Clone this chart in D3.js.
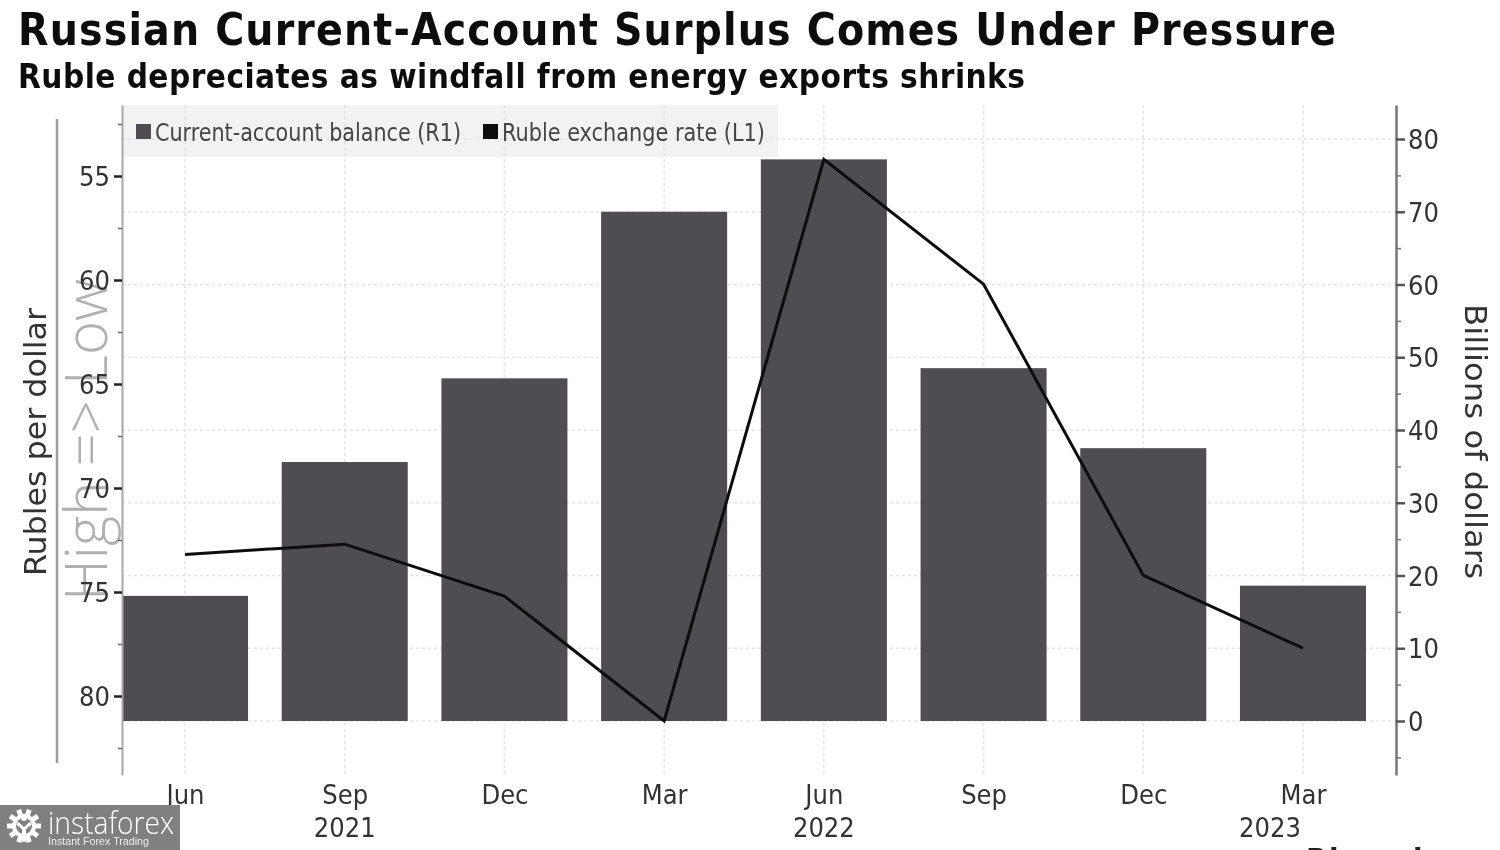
<!DOCTYPE html>
<html><head><meta charset="utf-8">
<script src="https://cdn.jsdelivr.net/npm/d3@7"></script>
<style>
html,body{margin:0;padding:0;background:#fff;overflow:hidden}
svg{display:block}
</style></head><body>
<svg id="c" width="1500" height="850" font-family="'DejaVu Sans',sans-serif"></svg>
<script>
const categories=["Jun 2021","Sep 2021","Dec 2021","Mar 2022","Jun 2022","Sep 2022","Dec 2022","Mar 2023"];
const monthLabels=["Jun","Sep","Dec","Mar","Jun","Sep","Dec","Mar"];
const balance=[17.2,35.6,47.1,70,77.2,48.5,37.5,18.6];
const ruble=[73.2,72.7,75.2,81.2,54.2,60.2,74.2,77.7];
const leftTicks=[55,60,65,70,75,80];
const leftMinor=[52.5,57.5,62.5,67.5,72.5,77.5,82.5];
const rightTicks=[0,10,20,30,40,50,60,70,80];
const rightMinor=[5,15,25,35,45,55,65,75,-5];
const yearLabels=[{i:1,t:"2021",dx:0},{i:4,t:"2022",dx:0},{i:7,t:"2023",dx:-33}];

const svg=d3.select("#c");
const F="'DejaVu Sans Condensed','DejaVu Sans',sans-serif";
const plot={l:122,r:1396,t:105,b:775,barR:1366};
const x=d3.scaleBand().domain(categories).range([plot.l,plot.barR]).paddingInner(0.211).paddingOuter(0);
const cx=d=>x(d)+x.bandwidth()/2;
const yR=d3.scaleLinear().domain([0,80]).range([721,139]);
const yL=d3.scaleLinear().domain([55,80]).range([176,696]);
const rTop=yR.invert(plot.t),rBot=yR.invert(plot.b),lTop=yL.invert(plot.t),lBot=yL.invert(plot.b);
yR.domain([rBot,rTop]).range([plot.b,plot.t]);
yL.domain([lTop,lBot]).range([plot.t,plot.b]);

const defs=svg.append("defs");
defs.append("filter").attr("id","soft").append("feGaussianBlur").attr("stdDeviation",0.6);
const root=svg.append("g").attr("filter","url(#soft)");

// Title block
root.append("text").attr("x",18).attr("y",45).attr("font-family",F).attr("font-size",44).attr("font-weight",700).attr("fill","#111")
 .attr("textLength",1318).attr("lengthAdjust","spacing").text("Russian Current-Account Surplus Comes Under Pressure");
root.append("text").attr("x",18).attr("y",88).attr("font-family",F).attr("font-size",33).attr("font-weight",700).attr("fill","#111")
 .attr("textLength",1007).attr("lengthAdjust","spacing").text("Ruble depreciates as windfall from energy exports shrinks");

// Legend band
root.append("rect").attr("x",plot.l).attr("y",plot.t).attr("width",656).attr("height",52).attr("fill","#f2f2f3");

// Grid
root.append("g").selectAll("line").data(rightTicks).join("line")
 .attr("x1",plot.l).attr("x2",plot.r).attr("y1",d=>yR(d)).attr("y2",d=>yR(d))
 .attr("stroke","#e3e3e7").attr("stroke-width",1.5).attr("stroke-dasharray","3 3");
root.append("g").selectAll("line").data(categories).join("line")
 .attr("x1",cx).attr("x2",cx).attr("y1",plot.t).attr("y2",plot.b)
 .attr("stroke","#e3e3e7").attr("stroke-width",1.5).attr("stroke-dasharray","3 3");

// Bars
root.append("g").selectAll("rect").data(categories).join("rect")
 .attr("x",d=>x(d)).attr("width",x.bandwidth())
 .attr("y",(d,i)=>yR(balance[i])).attr("height",(d,i)=>yR(0)-yR(balance[i])).attr("fill","#4f4d51");

// Direction label
root.append("text").attr("transform","translate(107,601) rotate(-90)").attr("font-size",58).attr("fill","#b0b0b2")
 .attr("font-family","'Open Sans',sans-serif").attr("font-weight",300).attr("style","white-space:pre")
 .attr("textLength",322).attr("lengthAdjust","spacingAndGlyphs").text("High => Low");
root.append("line").attr("x1",57).attr("x2",57).attr("y1",119).attr("y2",763).attr("stroke","#9c9c9c").attr("stroke-width",2.5);

// Line
const line=d3.line().x((d,i)=>cx(categories[i])).y(d=>yL(d));
root.append("path").datum(ruble).attr("d",line).attr("fill","none").attr("stroke","#0c0c10").attr("stroke-width",3).attr("stroke-linejoin","miter");

// Axes
function style(g,col,w){
 g.selectAll(".domain").attr("stroke",col).attr("stroke-width",w);
 g.selectAll("text").attr("font-family",F).attr("font-size",27).attr("fill","#333");
}
const gL=root.append("g").attr("transform",`translate(${plot.l},0)`)
 .call(d3.axisLeft(yL).tickValues(leftTicks).tickSize(8).tickSizeOuter(0).tickPadding(4));
style(gL,"#a8a8a8",2);gL.selectAll(".tick line").attr("stroke","#222").attr("stroke-width",2.5);
gL.selectAll("text").attr("dy","0.36em");
const gLm=root.append("g").attr("transform",`translate(${plot.l},0)`)
 .call(d3.axisLeft(yL).tickValues(leftMinor).tickSize(4).tickFormat(""));
gLm.select(".domain").remove();gLm.selectAll(".tick line").attr("stroke","#666").attr("stroke-width",1.5);

const gR=root.append("g").attr("transform",`translate(${plot.r},0)`)
 .call(d3.axisRight(yR).tickValues(rightTicks).tickSize(9).tickSizeOuter(0).tickPadding(3));
style(gR,"#777",2.5);gR.selectAll(".tick line").attr("stroke","#555").attr("stroke-width",2.5);
gR.selectAll("text").attr("dy","0.36em");
const gRm=root.append("g").attr("transform",`translate(${plot.r},0)`)
 .call(d3.axisRight(yR).tickValues(rightMinor).tickSize(5).tickFormat(""));
gRm.select(".domain").remove();gRm.selectAll(".tick line").attr("stroke","#777").attr("stroke-width",1.5);

const gX=root.append("g").attr("transform",`translate(0,${plot.b})`)
 .call(d3.axisBottom(d3.scalePoint().domain(categories).range([cx(categories[0]),cx(categories[7])]))
 .tickSize(0).tickPadding(10).tickFormat((d,i)=>monthLabels[i]));
gX.select(".domain").remove();
gX.selectAll("text").attr("font-family",F).attr("font-size",27).attr("fill","#333");
root.append("g").selectAll("text").data(yearLabels).join("text")
 .attr("x",d=>cx(categories[d.i])+d.dx).attr("y",837).attr("text-anchor","middle")
 .attr("font-family",F).attr("font-size",27).attr("fill","#333").text(d=>d.t);

// Axis titles
root.append("text").attr("transform","translate(46,576) rotate(-90)").attr("font-family",F).attr("font-size",31).attr("fill","#333")
 .attr("textLength",268).attr("lengthAdjust","spacingAndGlyphs").text("Rubles per dollar");
root.append("text").attr("transform","translate(1465,304) rotate(90)").attr("font-family",F).attr("font-size",31).attr("fill","#333")
 .attr("textLength",275).attr("lengthAdjust","spacingAndGlyphs").text("Billions of dollars");

// Legend
root.append("rect").attr("x",136).attr("y",124).attr("width",15).attr("height",15).attr("fill","#4f4d51");
root.append("text").attr("x",155).attr("y",141).attr("font-family",F).attr("font-size",25).attr("fill","#444")
 .attr("textLength",306).attr("lengthAdjust","spacingAndGlyphs").text("Current-account balance (R1)");
root.append("rect").attr("x",483).attr("y",124).attr("width",15).attr("height",15).attr("fill","#0c0c10");
root.append("text").attr("x",502).attr("y",141).attr("font-family",F).attr("font-size",25).attr("fill","#444")
 .attr("textLength",263).attr("lengthAdjust","spacingAndGlyphs").text("Ruble exchange rate (L1)");

// Source, cut off by the frame as in the reference
root.append("text").attr("x",1306).attr("y",870).attr("font-family",F).attr("font-size",31).attr("font-weight",700).attr("fill","#222")
 .attr("textLength",185).attr("lengthAdjust","spacing").text("Bloomberg");

// Badge
const b=svg.append("g");
b.append("rect").attr("x",0).attr("y",805).attr("width",180).attr("height",45).attr("fill","#808080");
const g=b.append("g").attr("transform","translate(24,826)");
g.selectAll("line").data(d3.range(10)).join("line")
 .attr("x1",0).attr("y1",0).attr("x2",d=>17*Math.cos(d*Math.PI/5)).attr("y2",d=>17*Math.sin(d*Math.PI/5))
 .attr("stroke","#fff").attr("stroke-width",5);
g.append("circle").attr("r",12).attr("fill","#fff");
g.append("circle").attr("r",8).attr("fill","#808080");
g.append("circle").attr("cy",-8).attr("r",3).attr("fill","#fff");
g.append("path").attr("d",d3.line()([[-7,-3],[0,3],[7,-3]])).attr("fill","none").attr("stroke","#fff").attr("stroke-width",3);
g.append("rect").attr("x",-2).attr("y",1).attr("width",4).attr("height",15).attr("fill","#fff");
b.append("text").attr("x",48).attr("y",834).attr("font-family","'Open Sans',sans-serif").attr("font-weight",300).attr("font-size",31).attr("fill","#fff")
 .attr("textLength",126).attr("lengthAdjust","spacingAndGlyphs").text("instaforex");
b.append("text").attr("x",48).attr("y",845).attr("font-family","'Liberation Sans',sans-serif").attr("font-size",11.5).attr("fill","#eee")
 .attr("textLength",101).attr("lengthAdjust","spacingAndGlyphs").text("Instant Forex Trading");
</script>
</body></html>
